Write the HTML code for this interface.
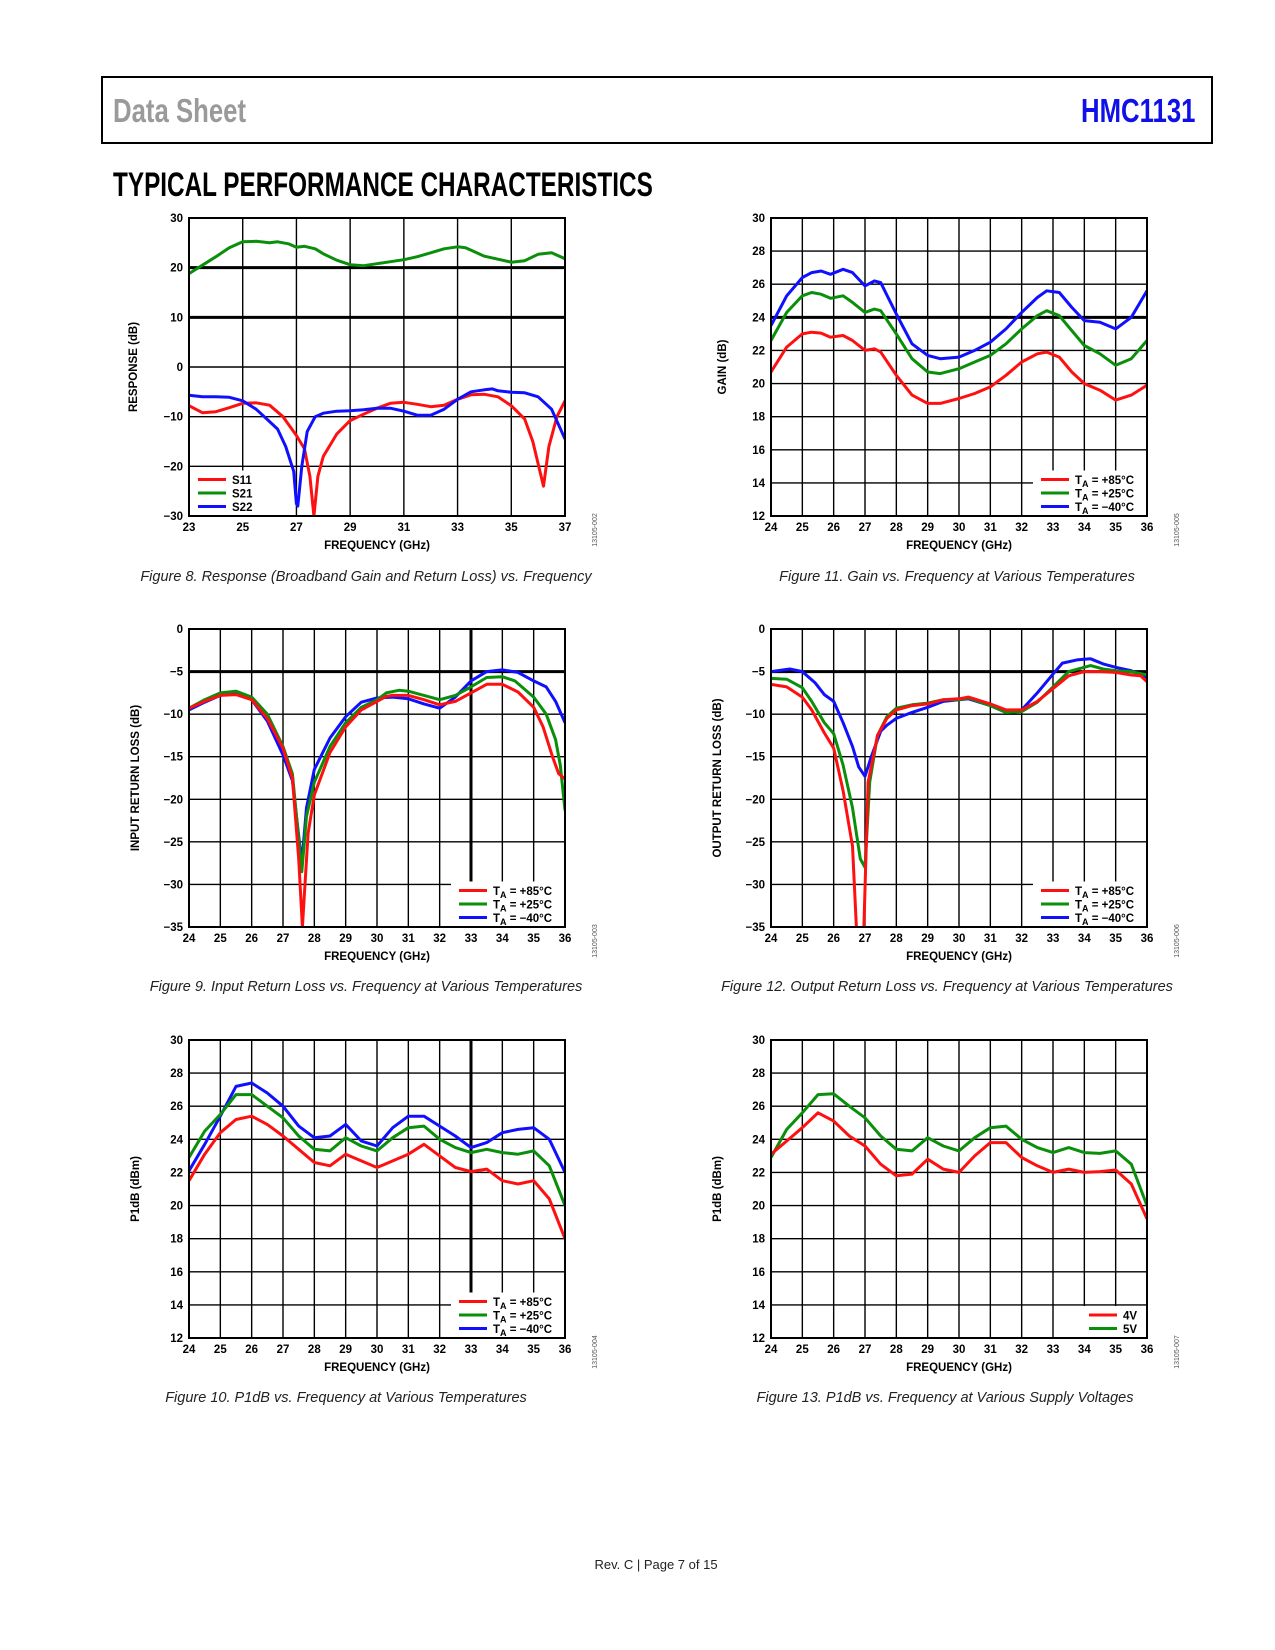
<!DOCTYPE html>
<html><head><meta charset="utf-8"><style>
body{margin:0;background:#fff;}
#page{position:relative;width:1275px;height:1650px;overflow:hidden;font-family:"Liberation Sans",Arial,sans-serif;}
.hdrbox{position:absolute;left:101px;top:76px;width:1108px;height:64px;border:2px solid #000;}
.cond{position:absolute;font-weight:bold;transform-origin:left top;transform:scaleX(0.78);white-space:nowrap;}
.cap{position:absolute;font-style:italic;font-size:14.5px;color:#222;white-space:nowrap;transform:translateX(-50%) scaleX(1.0);}
svg{position:absolute;left:0;top:0;}
</style></head><body>
<div id="page">
<div class="hdrbox"></div>
<div class="cond" style="left:113px;top:92px;font-size:33px;color:#9a9a9a;">Data Sheet</div>
<div class="cond" style="left:1081px;top:92px;font-size:33px;color:#1010e8;">HMC1131</div>
<div class="cond" style="left:113px;top:166px;font-size:34px;color:#000;transform:scaleX(0.715);">TYPICAL PERFORMANCE CHARACTERISTICS</div>
<div class="cap" style="left:366px;top:569px;">Figure 8. Response (Broadband Gain and Return Loss) vs. Frequency</div>
<div class="cap" style="left:957px;top:569px;">Figure 11. Gain vs. Frequency at Various Temperatures</div>
<div class="cap" style="left:366px;top:979px;">Figure 9. Input Return Loss vs. Frequency at Various Temperatures</div>
<div class="cap" style="left:947px;top:979px;">Figure 12. Output Return Loss vs. Frequency at Various Temperatures</div>
<div class="cap" style="left:346px;top:1390px;">Figure 10. P1dB vs. Frequency at Various Temperatures</div>
<div class="cap" style="left:945px;top:1390px;">Figure 13. P1dB vs. Frequency at Various Supply Voltages</div>
<div style="position:absolute;left:656px;top:1557px;transform:translateX(-50%);font-size:13px;color:#222;">Rev. C | Page 7 of 15</div>
<svg id="svg" width="1275" height="1650"></svg>
</div>
<script>
// Figure 8 data
const f8x_s11=[23,23.5,24,24.5,25,25.5,26,26.5,27,27.3,27.5,27.65,27.8,28,28.5,29,29.5,30,30.5,31,31.5,32,32.5,33,33.5,34,34.5,35,35.5,35.8,36.2,36.4,36.7,37];
const f8y_s11=[-7.8,-9.2,-9,-8.2,-7.3,-7.2,-7.7,-10,-13.8,-16.5,-22,-30,-22,-18,-13.5,-10.8,-9.5,-8.3,-7.3,-7.1,-7.5,-8,-7.7,-6.5,-5.6,-5.5,-6,-7.8,-10.5,-15,-24,-16,-10,-6.8];
const f8x_s21=[23,23.5,24,24.5,25,25.5,26,26.3,26.7,27,27.3,27.7,28,28.5,29,29.5,30,30.5,31,31.5,32,32.5,33,33.3,34,34.5,35,35.5,36,36.5,37];
const f8y_s21=[18.8,20.5,22.2,24,25.2,25.3,25,25.2,24.8,24.1,24.3,23.8,22.8,21.5,20.6,20.4,20.8,21.2,21.6,22.2,23,23.8,24.2,24,22.3,21.7,21.1,21.4,22.7,23,21.8];
const f8x_s22=[23,23.5,24,24.5,25,25.5,26,26.3,26.6,26.9,27,27.05,27.2,27.4,27.7,28,28.5,29,29.5,30,30.5,31,31.5,32,32.5,33,33.5,34,34.3,34.5,35,35.5,36,36.5,37];
const f8y_s22=[-5.7,-6,-6,-6.1,-6.8,-8.5,-11,-12.5,-16,-21,-27.5,-28,-20,-13,-10,-9.3,-8.9,-8.8,-8.6,-8.3,-8.3,-8.9,-9.7,-9.7,-8.5,-6.5,-5,-4.6,-4.4,-4.8,-5.1,-5.2,-6,-8.5,-14.5];
// Figure 9 data
const f9x_85=[24,24.5,25,25.5,26,26.5,27,27.3,27.5,27.62,27.8,28,28.5,29,29.5,30,30.3,30.5,31,31.5,32,32.5,33,33.5,34,34.5,35,35.3,35.6,35.8,36];
const f9y_85=[-9.3,-8.5,-7.8,-7.7,-8.3,-10.5,-14,-17.5,-27,-35,-24,-19.5,-14.5,-11.5,-9.5,-8.5,-7.9,-7.8,-7.8,-8.3,-8.9,-8.5,-7.5,-6.5,-6.5,-7.4,-9.2,-11.5,-15,-17,-17.6];
const f9x_25=[24,24.5,25,25.5,26,26.5,27,27.3,27.6,27.75,28,28.5,29,29.5,30,30.3,30.7,31,31.5,32,32.5,33,33.5,34,34.4,35,35.4,35.7,35.85,36];
const f9y_25=[-9.3,-8.3,-7.5,-7.3,-8,-10,-13.8,-17,-28.5,-22,-18,-13.8,-11,-9.2,-8.3,-7.5,-7.2,-7.3,-7.8,-8.3,-7.8,-6.8,-5.7,-5.6,-6.1,-8,-10,-13,-16,-21.3];
const f9x_40=[24,24.5,25,25.5,26,26.5,27,27.3,27.6,27.75,28,28.5,29,29.5,30,30.5,31,31.5,32,32.5,33,33.5,34,34.5,35,35.4,35.7,36];
const f9y_40=[-9.5,-8.6,-7.8,-7.5,-8.3,-10.8,-14.8,-17.8,-27.5,-21,-16.5,-12.8,-10.3,-8.6,-8.1,-8,-8.2,-8.8,-9.3,-8,-6.1,-5,-4.8,-5.1,-6.1,-6.8,-8.5,-11];
// Figure 11 data
const f11x=[24,24.5,25,25.3,25.6,25.9,26.3,26.6,27,27.3,27.5,28,28.5,29,29.4,30,30.5,31,31.5,32,32.5,32.8,33.2,33.6,34,34.5,35,35.5,36];
const f11y_85=[20.7,22.2,23,23.1,23.05,22.8,22.9,22.6,22,22.1,21.9,20.5,19.3,18.8,18.8,19.1,19.4,19.8,20.5,21.3,21.8,21.9,21.6,20.7,20,19.6,19,19.3,19.9];
const f11y_25=[22.6,24.3,25.3,25.5,25.4,25.15,25.3,24.9,24.3,24.5,24.4,23,21.5,20.7,20.6,20.9,21.3,21.7,22.4,23.3,24.1,24.4,24.1,23.2,22.3,21.8,21.1,21.5,22.6];
const f11y_40=[23.5,25.3,26.4,26.7,26.8,26.6,26.9,26.7,25.9,26.2,26.1,24.2,22.4,21.7,21.5,21.6,22,22.5,23.3,24.3,25.2,25.6,25.5,24.6,23.8,23.7,23.3,24,25.6];
// Figure 12 data
const f12x_85=[24,24.5,25,25.3,25.7,26,26.3,26.6,26.75,26.95,27.1,27.4,27.7,28,28.5,29,29.5,30,30.3,31,31.5,32,32.5,33,33.5,34,34.5,35,35.5,35.8,36];
const f12y_85=[-6.5,-6.8,-8,-9.5,-12.2,-14,-19,-25.5,-37,-37,-18,-12.5,-10.5,-9.5,-9,-8.8,-8.3,-8.2,-8,-8.8,-9.5,-9.5,-8.5,-7,-5.5,-5,-5,-5.1,-5.4,-5.5,-6.2];
const f12x_25=[24,24.5,25,25.3,25.7,26,26.3,26.6,26.85,27,27.15,27.4,27.7,28,28.5,29,29.5,30,30.3,31,31.5,32,32.5,33,33.5,34,34.2,34.6,35,35.5,36];
const f12y_25=[-5.8,-5.9,-6.9,-8.5,-11,-12.3,-16,-21,-27,-28,-18,-12.5,-10.3,-9.3,-8.9,-8.7,-8.3,-8.3,-8.1,-9,-9.8,-9.7,-8.6,-6.8,-5,-4.5,-4.3,-4.7,-4.9,-5,-5.4];
const f12x_40=[24,24.6,25,25.4,25.7,26,26.3,26.6,26.8,27,27.2,27.5,27.7,28,28.5,29,29.5,30,30.3,31,31.5,32,32.5,33,33.3,33.8,34.2,34.6,35,35.5,36];
const f12y_40=[-5,-4.7,-5,-6.3,-7.7,-8.5,-11,-13.8,-16.2,-17.3,-15,-12,-11.3,-10.5,-9.8,-9.2,-8.5,-8.3,-8.2,-9,-9.8,-9.5,-7.5,-5.3,-4,-3.6,-3.5,-4.1,-4.5,-4.9,-5.7];
// Figure 10 / 13 data
const pfx=[24,24.5,25,25.5,26,26.5,27,27.5,28,28.5,29,29.5,30,30.5,31,31.5,32,32.5,33,33.5,34,34.5,35,35.5,36];
const f10y_85=[21.5,23.1,24.4,25.2,25.4,24.9,24.2,23.4,22.6,22.4,23.1,22.7,22.3,22.7,23.1,23.7,23,22.3,22.05,22.2,21.5,21.3,21.5,20.4,18];
const f10y_25=[22.9,24.5,25.5,26.7,26.7,26,25.3,24.2,23.4,23.3,24.1,23.6,23.3,24.1,24.7,24.8,24,23.5,23.2,23.4,23.2,23.1,23.3,22.4,20];
const f10y_40=[22.1,23.7,25.4,27.2,27.4,26.8,26,24.8,24.1,24.2,24.9,23.9,23.6,24.7,25.4,25.4,24.8,24.2,23.5,23.8,24.4,24.6,24.7,24,22];
const f13y_4v=[23.1,23.9,24.7,25.6,25.1,24.2,23.6,22.5,21.8,21.9,22.8,22.2,22,23,23.8,23.8,22.9,22.4,22,22.2,22,22.05,22.15,21.3,19.2];
const f13y_5v=[22.9,24.6,25.6,26.7,26.75,26,25.3,24.2,23.4,23.3,24.1,23.6,23.3,24.1,24.7,24.8,24,23.5,23.2,23.5,23.2,23.15,23.3,22.5,20];
const ticks8x=[23,25,27,29,31,33,35,37], ticks8y=[-30,-20,-10,0,10,20,30];
const ticksGx=[24,25,26,27,28,29,30,31,32,33,34,35,36];
const ticksRLy=[-35,-30,-25,-20,-15,-10,-5,0], ticksPy=[12,14,16,18,20,22,24,26,28,30];
const tempLabels=['+85','+25','\u221240'];
const voltLabels=['4V','5V'];

const NS='http://www.w3.org/2000/svg';
const svg=document.getElementById('svg');
const RED='#ff1010',GRN='#0a8f0a',BLU='#1010ff';
function el(tag,attrs,parent){const e=document.createElementNS(NS,tag);for(const k in attrs)e.setAttribute(k,attrs[k]);(parent||svg).appendChild(e);return e;}
let cid=0;
function chart(o){
  cid++;
  const g=el('g',{});
  
  
  const L=o.x,T=o.y,W=376,H=298;
  const sx=v=>L+(v-o.xmin)/(o.xmax-o.xmin)*W;
  const sy=v=>T+H-(v-o.ymin)/(o.ymax-o.ymin)*H;
  o.xt.forEach(v=>{const l=el('line',{x1:sx(v),x2:sx(v),y1:T,y2:T+H,stroke:'#000','stroke-width':(o.boldX&&o.boldX.includes(v))?3:1.4},g);
    
    const t=el('text',{x:sx(v),y:T+H+15,'text-anchor':'middle','font-size':11.5,'font-weight':'bold'},g);t.textContent=v;
    });
  o.yt.forEach(v=>{const l=el('line',{x1:L,x2:L+W,y1:sy(v),y2:sy(v),stroke:'#000','stroke-width':(o.boldY&&o.boldY.includes(v))?3:1.4},g);
    
    const t=el('text',{x:L-6,y:sy(v)+4,'text-anchor':'end','font-size':11.5,'font-weight':'bold'},g);t.textContent=(v<0?'\u2212'+(-v):v);
    });
  const cp=el('clipPath',{id:'c'+cid},g);el('rect',{x:L,y:T,width:W,height:H},cp);
  const lg=o.legend;
  const lh=lg.items.length*13.5+5;
  const lw=lg.w;
  const lx=lg.left?L+6:L+W-lw, ly=T+H-lh;
  const series=el('g',{'clip-path':'url(#c'+cid+')'},g);
  o.series.forEach(s=>{
    const pts=s.xs.map((x,i)=>sx(x).toFixed(1)+','+sy(s.ys[i]).toFixed(1)).join(' ');
    const p=el('polyline',{points:pts,fill:'none',stroke:s.c,'stroke-width':3,'stroke-linejoin':'round'},series);
    
  });
  const lb=el('rect',{x:lx,y:ly,width:lw,height:lh,fill:'#fff'},g);
  
  lg.items.forEach((it,i)=>{
    const yy=ly+9+i*13.5;
    const x0=lg.left?lx+3:lx+8;
    const ll=el('line',{x1:x0,x2:x0+28,y1:yy,y2:yy,stroke:it.c,'stroke-width':3},g);
    
    const t=el('text',{x:x0+34,y:yy+4.5,'font-size':11.5,'font-weight':'bold'},g);
    
    if(it.temp){t.textContent='T';const sb=el('tspan',{'font-size':9,dy:3},t);sb.textContent='A';const r=el('tspan',{dy:-3},t);r.textContent=' = '+it.temp+'\u00B0C';}
    else t.textContent=it.t;
  });
  el('rect',{x:L,y:T,width:W,height:H,fill:'none',stroke:'#000','stroke-width':2},g);
  const xt=el('text',{x:L+W/2,y:T+H+33,'text-anchor':'middle','font-size':11.5,'font-weight':'bold'},g);xt.textContent='FREQUENCY (GHz)';
  
  const yx=L-o.ytOff,yy2=T+H/2;
  const yt=el('text',{x:yx,y:yy2,'text-anchor':'middle','font-size':11.5,'font-weight':'bold',transform:`rotate(-90 ${yx} ${yy2})`},g);yt.textContent=o.ytitle;
  
  const ix=L+W+32,iy=T+H+14;
  const id=el('text',{x:ix,y:iy,'text-anchor':'middle','font-size':7,fill:'#555',transform:`rotate(-90 ${ix} ${iy})`},g);id.textContent=o.code;
  
}
const tempLeg=[{c:RED,temp:tempLabels[0]},{c:GRN,temp:tempLabels[1]},{c:BLU,temp:tempLabels[2]}];
chart({name:'figure-8-response-chart',x:189,y:218,xmin:23,xmax:37,ymin:-30,ymax:30,xt:ticks8x,yt:ticks8y,boldY:[10,20],ytitle:'RESPONSE (dB)',ytOff:52,code:'13105-002',
  legend:{left:true,w:68,items:[{c:RED,t:'S11'},{c:GRN,t:'S21'},{c:BLU,t:'S22'}]},
  series:[{n:'s21-line',c:GRN,xs:f8x_s21,ys:f8y_s21},{n:'s11-line',c:RED,xs:f8x_s11,ys:f8y_s11},{n:'s22-line',c:BLU,xs:f8x_s22,ys:f8y_s22}]});
chart({name:'figure-11-gain-chart',x:771,y:218,xmin:24,xmax:36,ymin:12,ymax:30,xt:ticksGx,yt:ticksPy,boldY:[24],ytitle:'GAIN (dB)',ytOff:45,code:'13105-005',
  legend:{w:114,items:tempLeg},
  series:[{n:'gain-85c-line',c:RED,xs:f11x,ys:f11y_85},{n:'gain-25c-line',c:GRN,xs:f11x,ys:f11y_25},{n:'gain-m40c-line',c:BLU,xs:f11x,ys:f11y_40}]});
chart({name:'figure-9-input-return-loss-chart',x:189,y:629,xmin:24,xmax:36,ymin:-35,ymax:0,xt:ticksGx,yt:ticksRLy,boldY:[-5],boldX:[33],ytitle:'INPUT RETURN LOSS (dB)',ytOff:50,code:'13105-003',
  legend:{w:114,items:tempLeg},
  series:[{n:'irl-40c-line',c:BLU,xs:f9x_40,ys:f9y_40},{n:'irl-25c-line',c:GRN,xs:f9x_25,ys:f9y_25},{n:'irl-85c-line',c:RED,xs:f9x_85,ys:f9y_85}]});
chart({name:'figure-12-output-return-loss-chart',x:771,y:629,xmin:24,xmax:36,ymin:-35,ymax:0,xt:ticksGx,yt:ticksRLy,boldY:[-5],ytitle:'OUTPUT RETURN LOSS (dB)',ytOff:50,code:'13105-006',
  legend:{w:114,items:tempLeg},
  series:[{n:'orl-40c-line',c:BLU,xs:f12x_40,ys:f12y_40},{n:'orl-25c-line',c:GRN,xs:f12x_25,ys:f12y_25},{n:'orl-85c-line',c:RED,xs:f12x_85,ys:f12y_85}]});
chart({name:'figure-10-p1db-temp-chart',x:189,y:1040,xmin:24,xmax:36,ymin:12,ymax:30,xt:ticksGx,yt:ticksPy,boldX:[33],ytitle:'P1dB (dBm)',ytOff:50,code:'13105-004',
  legend:{w:114,items:tempLeg},
  series:[{n:'p1db-40c-line',c:BLU,xs:pfx,ys:f10y_40},{n:'p1db-25c-line',c:GRN,xs:pfx,ys:f10y_25},{n:'p1db-85c-line',c:RED,xs:pfx,ys:f10y_85}]});
chart({name:'figure-13-p1db-voltage-chart',x:771,y:1040,xmin:24,xmax:36,ymin:12,ymax:30,xt:ticksGx,yt:ticksPy,ytitle:'P1dB (dBm)',ytOff:50,code:'13105-007',
  legend:{w:66,items:[{c:RED,t:voltLabels[0]},{c:GRN,t:voltLabels[1]}]},
  series:[{n:'p1db-5v-line',c:GRN,xs:pfx,ys:f13y_5v},{n:'p1db-4v-line',c:RED,xs:pfx,ys:f13y_4v}]});
</script>
</body></html>
